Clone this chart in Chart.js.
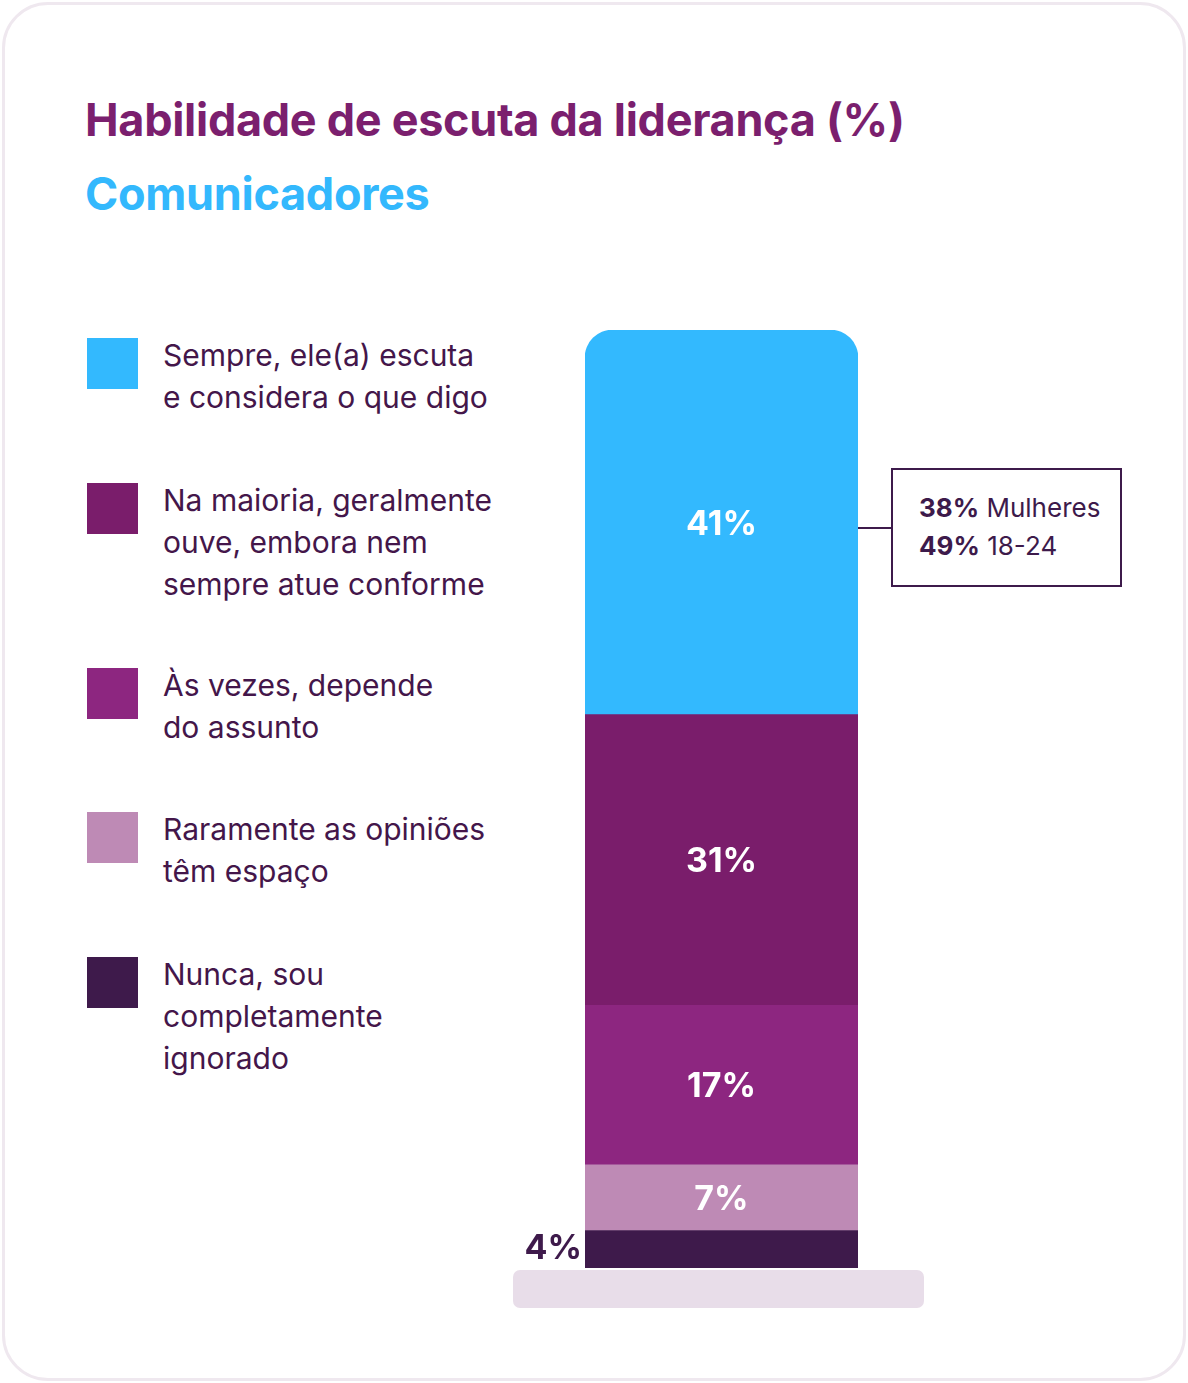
<!DOCTYPE html>
<html>
<head>
<meta charset="utf-8">
<script src="https://cdn.jsdelivr.net/npm/chart.js@4"></script>
<style>
  html, body { margin: 0; padding: 0; background: #fff; }
  body { width: 1188px; height: 1383px; position: relative; overflow: hidden; font-family: "Inter", "Noto Sans", sans-serif; }
  .card { position: absolute; left: 2px; top: 2px; width: 1178px; height: 1373px; border: 3px solid #efe8ef; border-radius: 46px; }
  h1 { position: absolute; left: 85px; top: 92px; margin: 0; font-size: 45px; font-weight: 700; color: #7b1f6e; letter-spacing: -0.3px; }
  h2 { position: absolute; left: 85px; top: 166px; margin: 0; font-size: 45px; font-weight: 700; color: #33b8fd; letter-spacing: -0.3px; }
  .legend-item { position: absolute; left: 87px; }
  .legend-item .sw { position: absolute; left: 0; top: 0; width: 51px; height: 51px; }
  .legend-item .tx { position: absolute; left: 76px; top: -4px; width: 420px; font-size: 30px; line-height: 42px; color: #44164a; white-space: nowrap; }
  .pedestal { position: absolute; left: 513px; top: 1270px; width: 411px; height: 38px; background: #e8dde9; border-radius: 7px; }
  .callout { position: absolute; left: 891px; top: 468px; width: 227px; height: 115px; border: 2px solid #3d1a4b; box-sizing: content-box; font-size: 26px; color: #3d1a4b; }
  .callout div { position: absolute; left: 26px; }
  .connector { position: absolute; left: 858px; top: 527px; width: 33px; height: 2px; background: #3d1a4b; }
  canvas { position: absolute; left: 0; top: 0; }
</style>
</head>
<body>
<div class="card"></div>
<h1>Habilidade de escuta da liderança (%)</h1>
<h2>Comunicadores</h2>
<div id="legend"></div>
<div class="pedestal"></div>
<div class="connector"></div>
<div class="callout">
  <div style="top:22px"><b>38%</b> Mulheres</div>
  <div style="top:60px"><b>49%</b> 18-24</div>
</div>
<canvas id="chart" width="1188" height="1383"></canvas>
<script>
// top to bottom order, as in the legend
const categories = [
  ['Sempre, ele(a) escuta', 'e considera o que digo'],
  ['Na maioria, geralmente', 'ouve, embora nem', 'sempre atue conforme'],
  ['Às vezes, depende', 'do assunto'],
  ['Raramente as opiniões', 'têm espaço'],
  ['Nunca, sou', 'completamente', 'ignorado']
];
const values = [41, 31, 17, 7, 4];
const colors = ['#33b9fe', '#7a1d6b', '#8d2680', '#be8ab5', '#3e1a4b'];
const legendTops = [338, 483, 668, 812, 957];

const legend = document.getElementById('legend');
categories.forEach((c, i) => {
  const d = document.createElement('div');
  d.className = 'legend-item';
  d.style.top = legendTops[i] + 'px';
  d.innerHTML = `<div class="sw" style="background:${colors[i]}"></div><div class="tx">${c.join('<br>')}</div>`;
  legend.appendChild(d);
});

// stacking goes bottom-up, so reverse
const datasets = values.map((v, i) => ({
  label: categories[i].join(' '),
  data: [v],
  backgroundColor: colors[i],
  borderWidth: 0,
  borderSkipped: false,
  borderRadius: i === 0 ? { topLeft: 28, topRight: 28, bottomLeft: 0, bottomRight: 0 } : 0,
  barPercentage: 1,
  categoryPercentage: 1
})).reverse();

const labelsPlugin = {
  id: 'segLabels',
  afterDatasetsDraw(chart) {
    const ctx = chart.ctx;
    ctx.save();
    ctx.font = 'bold 34px Inter, "Noto Sans", sans-serif';
    ctx.textBaseline = 'middle';
    chart.data.datasets.forEach((ds, di) => {
      const el = chart.getDatasetMeta(di).data[0];
      const v = ds.data[0];
      const y = (el.y + el.base) / 2;
      if (v < 5) {
        ctx.fillStyle = '#3e1a4b';
        ctx.textAlign = 'right';
        ctx.fillText(v + '%', el.x - el.width / 2 - 3, y);
      } else {
        ctx.fillStyle = '#ffffff';
        ctx.textAlign = 'center';
        ctx.fillText(v + '%', el.x, y + 2);
      }
    });
    ctx.restore();
  }
};

new Chart(document.getElementById('chart'), {
  type: 'bar',
  data: { labels: [''], datasets },
  options: {
    responsive: false,
    animation: false,
    layout: { padding: { left: 585, right: 330, top: 330, bottom: 115 } },
    plugins: { legend: { display: false }, tooltip: { enabled: false } },
    scales: {
      x: { stacked: true, display: false },
      y: { stacked: true, display: false, min: 0, max: 100 }
    }
  },
  plugins: [labelsPlugin]
});
</script>
</body>
</html>
